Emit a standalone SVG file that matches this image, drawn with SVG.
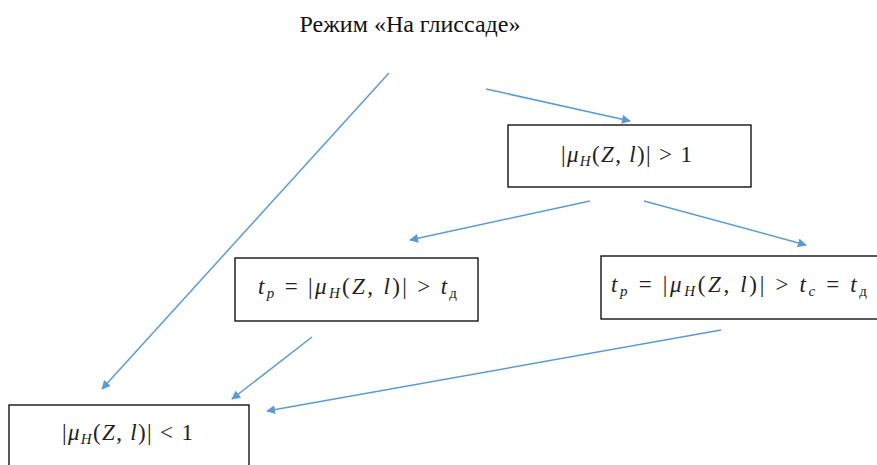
<svg xmlns="http://www.w3.org/2000/svg" width="877" height="465" viewBox="0 0 877 465">
<style>
.box{fill:#fff;stroke:#000;stroke-width:1.3}
.m{font-family:"Liberation Serif","DejaVu Serif",serif;font-size:23px;fill:#222}
.i{font-style:italic}
.s{font-size:15px;font-style:italic}
.u{font-size:15px}
.t{font-family:"Liberation Serif","DejaVu Serif",serif;font-size:24px;fill:#111}
.c{stroke:#5B9BD5;stroke-width:1.5;fill:none}
</style>
<defs>
<marker id="ah" viewBox="0 0 10 10" refX="9" refY="5" markerWidth="9" markerHeight="9" markerUnits="userSpaceOnUse" orient="auto">
<path d="M0,0 L10,5 L0,10 z" fill="#5B9BD5"/>
</marker>
</defs>
<rect width="877" height="465" fill="#fff"/>
<g id="title"><text class="t" x="410" y="32" text-anchor="middle">Режим «На глиссаде»</text></g>
<g id="connectors">
<line class="c" x1="389" y1="73" x2="102" y2="389" marker-end="url(#ah)"/>
<line class="c" x1="486" y1="89" x2="630" y2="121" marker-end="url(#ah)"/>
<line class="c" x1="590" y1="201" x2="410" y2="240" marker-end="url(#ah)"/>
<line class="c" x1="644" y1="201" x2="806" y2="245" marker-end="url(#ah)"/>
<line class="c" x1="312" y1="337" x2="232" y2="399" marker-end="url(#ah)"/>
<line class="c" x1="721" y1="330" x2="267" y2="411" marker-end="url(#ah)"/>
</g>
<g id="n1">
<rect class="box" x="508" y="125" width="243" height="62"/>
<text class="m" x="561" y="162" textLength="131" lengthAdjust="spacing">|<tspan class="i">μ</tspan><tspan class="s" dy="4">H</tspan><tspan dy="-4">(</tspan><tspan class="i">Z</tspan>, <tspan class="i">l</tspan>)| &gt; 1</text>
</g>
<g id="n2">
<rect class="box" x="235" y="258" width="243" height="63"/>
<text class="m" x="258" y="294" textLength="199" lengthAdjust="spacing"><tspan class="i">t</tspan><tspan class="s" dy="4">p</tspan><tspan dy="-4"> = |</tspan><tspan class="i">μ</tspan><tspan class="s" dy="4">H</tspan><tspan dy="-4">(</tspan><tspan class="i">Z</tspan>, <tspan class="i">l</tspan>)| &gt; <tspan class="i">t</tspan><tspan class="u" dy="4">д</tspan></text>
</g>
<g id="n3">
<rect class="box" x="601" y="256" width="290" height="63"/>
<text class="m" x="611" y="292" textLength="256" lengthAdjust="spacing"><tspan class="i">t</tspan><tspan class="s" dy="4">p</tspan><tspan dy="-4"> = |</tspan><tspan class="i">μ</tspan><tspan class="s" dy="4">H</tspan><tspan dy="-4">(</tspan><tspan class="i">Z</tspan>, <tspan class="i">l</tspan>)| &gt;  <tspan class="i">t</tspan><tspan class="s" dy="4">c</tspan><tspan dy="-4"> = </tspan><tspan class="i">t</tspan><tspan class="u" dy="4">д</tspan></text>
</g>
<g id="n4">
<rect class="box" x="9" y="405" width="240" height="80"/>
<text class="m" x="62" y="440" textLength="131" lengthAdjust="spacing">|<tspan class="i">μ</tspan><tspan class="s" dy="4">H</tspan><tspan dy="-4">(</tspan><tspan class="i">Z</tspan>, <tspan class="i">l</tspan>)| &lt; 1</text>
</g>
</svg>
